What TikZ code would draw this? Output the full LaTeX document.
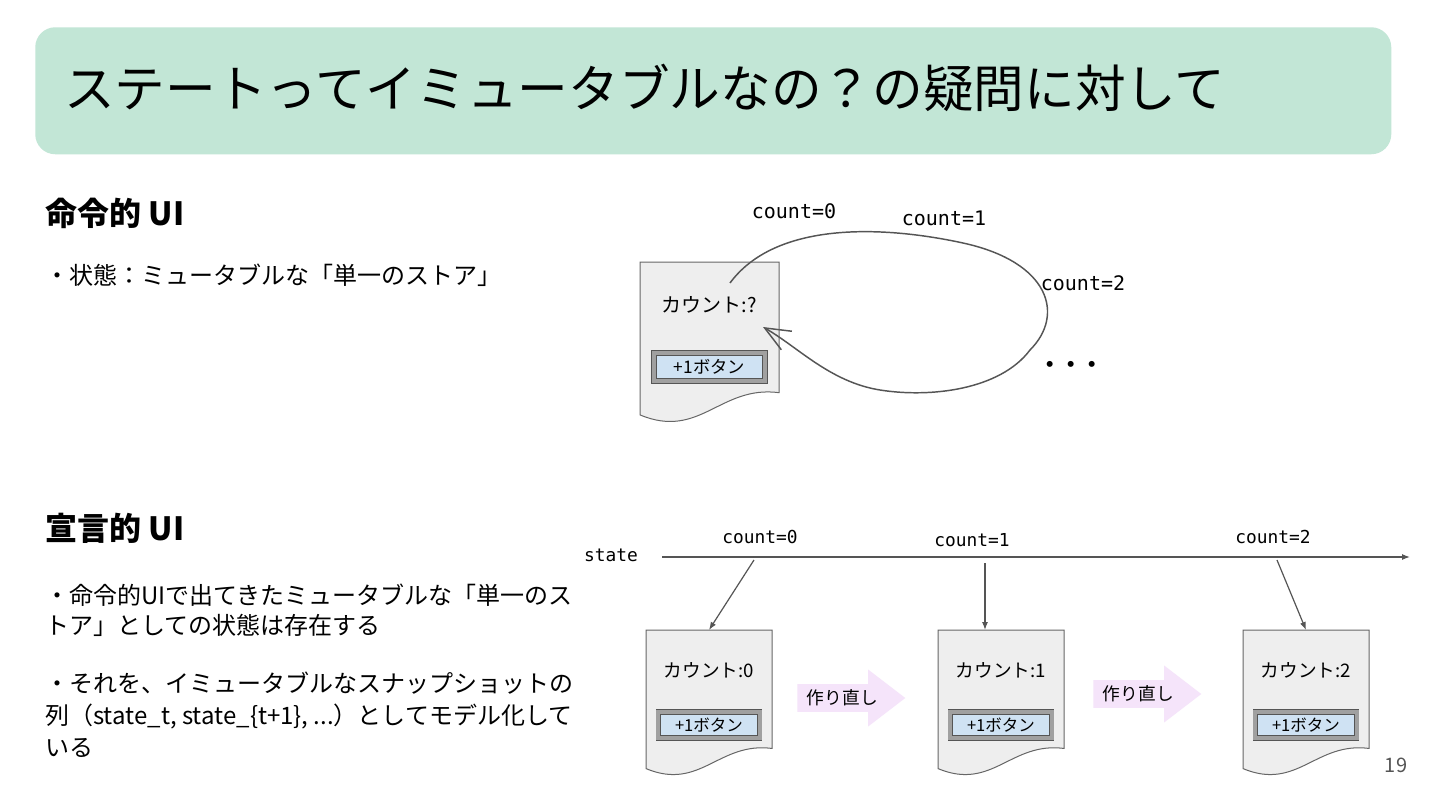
\documentclass[tikz,border=0pt]{standalone}
\usepackage{fontspec}
\setmainfont{Noto Sans CJK JP}
\newfontfamily\codefont{DejaVu Sans Mono}
\usepackage{tikz}
\usetikzlibrary{positioning,calc,arrows.meta}
\usetikzlibrary{shapes.arrows}

\definecolor{titlegreen}{RGB}{194,230,214}
\definecolor{docgray}{RGB}{238,238,238}
\definecolor{docline}{RGB}{102,102,102}
\definecolor{linegray}{RGB}{85,85,85}
\definecolor{btnblue}{RGB}{207,226,243}
\definecolor{btnband}{RGB}{160,160,160}
\definecolor{remakepink}{RGB}{245,228,250}

\tikzstyle{heading}=[font=\bfseries\fontsize{24}{24}\selectfont,
        inner sep=0, anchor=base west]
\tikzstyle{body}=[font=\fontsize{18}{22.5}\selectfont, align=left,
        inner sep=0, anchor=base west]
\tikzstyle{code}=[font=\codefont\fontsize{15}{15}\selectfont, inner sep=0]
\tikzstyle{smallcode}=[font=\codefont\fontsize{13.4}{13.4}\selectfont, inner sep=0]
\tikzstyle{btn}=[draw=linegray, double=btnband, double distance=3pt,
        line width=0.6pt, fill=btnblue, inner sep=0]
\tikzstyle{remake}=[single arrow, fill=remakepink, single arrow head extend=11pt,
        single arrow tip angle=75, minimum height=81pt, inner xsep=2pt,
        inner ysep=4pt, anchor=tail, font=\fontsize{13.3}{13.3}\selectfont]
\tikzstyle{arr}=[-{Latex[length=6pt, width=4.5pt]}, draw=linegray, line width=0.9pt]

\tikzset{
    document/.pic={
        \filldraw[fill=docgray, draw=docline, line width=0.75pt]
            (0,0) -- (1,0) -- (1,0.94)
            .. controls (0.576,0.885) and (0.432,1.28) .. (0,1.10) -- cycle;
        \coordinate (-top) at (0.5,0);
    }
}

\begin{document}
\begin{tikzpicture}[x=0.75pt, y=-0.75pt]
        \useasboundingbox (0,0) rectangle (1440,810);
        \fill[white] (0,0) rectangle (1440,810);

        \node[fill=titlegreen, rounded corners=15pt, anchor=north west,
            minimum width=1017pt, minimum height=95.25pt] (0) at (35,27) {};

        \node[font=\fontsize{38}{38}\selectfont, inner sep=0,
            anchor=base west] (1) at (64,107)
            {ステートってイミュータブルなの？の疑問に対して};

        % imperative UI
        \node[heading] (2) at (45,225) {命令的 UI};

        \node[body] (3) at (45,284) {・状態：ミュータブルな「単一のストア」};

        \pic[scale=139] (4) at (640,262) {document};

        \node[font=\fontsize{15}{15}\selectfont, inner sep=0] (5)
            at ($(4-top)+(0,43)$) {カウント:?};

        \node[btn, minimum width=83pt, minimum height=21.3pt,
            font=\fontsize{13}{13}\selectfont] (6)
            at ($(4-top)+(0,105)$) {+1ボタン};

        \node[code] (7) at (794,211) {count=0};
        \node[code] (8) at (944,218) {count=1};
        \node[code] (9) at (1083,283) {count=2};
        \node[font=\bfseries\fontsize{16}{16}\selectfont, inner sep=0] (10)
            at (1071,367) {・・・};

        \coordinate (a) at (730,283);
        \coordinate (b) at (763,327);
        \draw[-{Straight Barb[length=19pt, width=16pt]}, draw=linegray,
            line width=1.1pt] (a) .. controls (775,222) and (880,225) .. (963,243)
            .. controls (1050,262) and (1065,315) .. (1030,350)
            .. controls (1000,390) and (930,398) .. (880,390)
            .. controls (830,382) and (798,347) .. (b);

        % declarative UI
        \node[heading] (11) at (45,540) {宣言的 UI};

        \node[body] (12) at (45,634)
            {・命令的UIで出てきたミュータブルな「単一のス\\
             トア」としての状態は存在する};

        \node[body, font=\fontsize{18}{24}\selectfont] (13) at (45,756)
            {・それを、イミュータブルなスナップショットの\\
             列（state\_t, state\_\{t+1\}, ...）としてモデル化して\\
             いる};

        \node[smallcode] (14) at (611,555) {state};
        \coordinate (t0) at (662,557);
        \coordinate (t1) at (1410,557);
        \draw[arr] (t0) -- (t1);

        \node[smallcode] (15) at (760,537) {count=0};
        \node[smallcode] (16) at (972,540) {count=1};
        \node[smallcode] (17) at (1273,537) {count=2};

        \pic[scale=126] (18) at (646,630) {document};
        \pic[scale=126] (19) at (938,630) {document};
        \pic[scale=126] (20) at (1243,630) {document};

        \foreach \d/\n in {18/0, 19/1, 20/2} {
            \node[font=\fontsize{14}{14}\selectfont, inner sep=0]
                at ($(\d-top)+(0,40)$) {カウント:\n};
            \node[btn, minimum width=76pt, minimum height=19.8pt,
                font=\fontsize{12.4}{12.4}\selectfont]
                at ($(\d-top)+(0,95)$) {+1ボタン};
        }

        \coordinate (c0) at (754,560);
        \coordinate (c1) at (985,563);
        \coordinate (c2) at (1277,560);
        \draw[arr] (c0) to (18-top);
        \draw[arr] (c1) to (c1 |- 19-top);
        \draw[arr] (c2) to (20-top);

        \node[remake] (21) at (797,698) {作り直し};
        \node[remake] (22) at (1093,694) {作り直し};

        \node[font=\fontsize{15}{15}\selectfont, text=linegray, inner sep=0]
            (23) at (1396,765) {19};

    \end{tikzpicture}
\end{document}
